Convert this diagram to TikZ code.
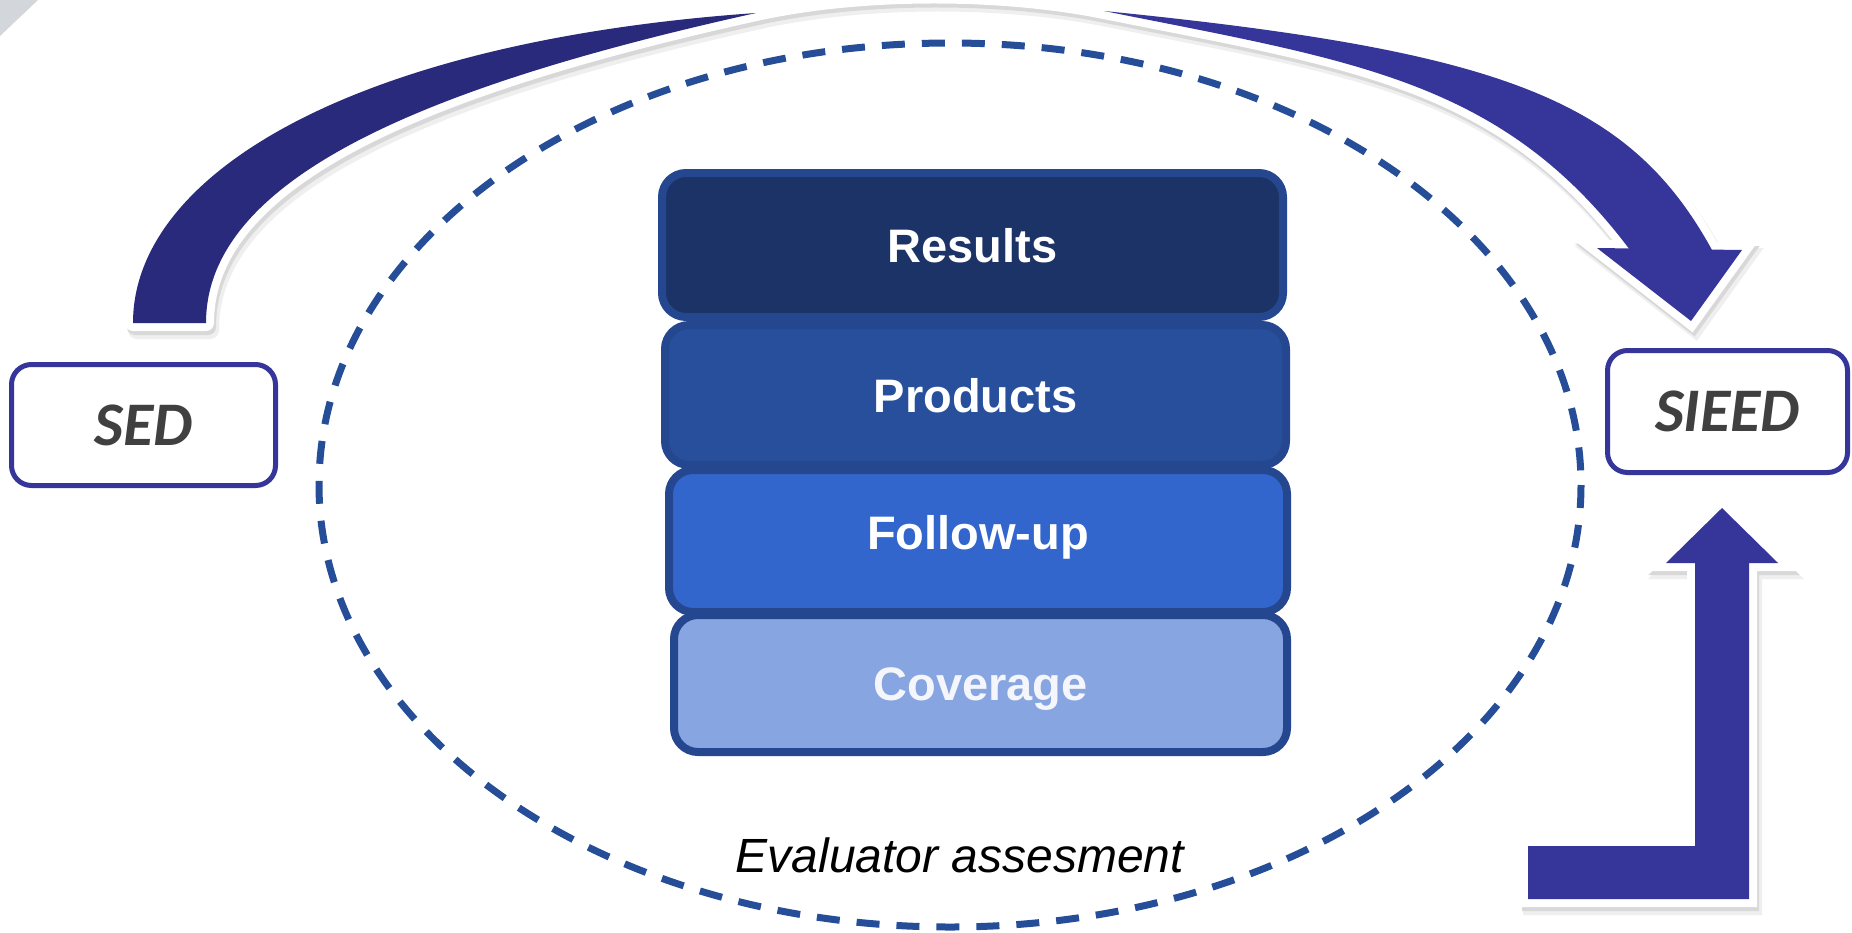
\documentclass[tikz,border=0pt]{standalone}
\usepackage{fontspec}
\setmainfont{Liberation Sans}
\newfontfamily\carlitofont{Carlito}
\definecolor{arcdark}{HTML}{2A2A7C}
\definecolor{arclight}{HTML}{35359A}
\definecolor{dashblue}{HTML}{254D98}
\definecolor{stackedge}{HTML}{25478F}
\definecolor{resfill}{HTML}{1B3366}
\definecolor{prodfill}{HTML}{274F9B}
\definecolor{follfill}{HTML}{3366CC}
\definecolor{covfill}{HTML}{87A5E0}
\definecolor{covtext}{HTML}{F4F6FB}
\definecolor{boxtext}{HTML}{404040}
\definecolor{cornergray}{HTML}{D3D6DA}
\definecolor{shadowlight}{HTML}{EFEFEF}
\definecolor{shadowdark}{HTML}{D8D8D8}
\newcommand\stackfont{\bfseries\fontsize{23.5pt}{26pt}\selectfont}
\newcommand\boxfont{\carlitofont\bfseries\itshape\fontsize{31pt}{34pt}\selectfont}
\begin{document}
\begin{tikzpicture}[x=0.5pt,y=-0.5pt,
  stackbox/.style={draw=stackedge, line width=4pt, rounded corners=12pt, text=white,
    font=\stackfont, inner sep=0pt, text height=17pt, text depth=0pt},
  endbox/.style={draw=arclight, line width=2.5pt, fill=white, rounded corners=10pt,
    font=\boxfont, text=boxtext, inner sep=0pt},
  pieceedge/.style={line width=8pt, line join=round},
  headedge/.style={line width=8pt, line join=miter},
]
\useasboundingbox (0,0) rectangle (1852,932);
\clip (0,0) rectangle (1852,932);
\fill[white] (0,0) rectangle (1852,932);
\fill[cornergray] (0,0) -- (38,0) -- (0,36) -- cycle;

% dashed evaluation ellipse
\draw[dashblue, line width=3.5pt, dash pattern=on 11.5pt off 8.5pt]
  (950,485) ellipse [x radius=631, y radius=442];

% curved arrow: key points
\coordinate (tailout) at (133,323);
\coordinate (tailin) at (206,323);
\coordinate (apexl) at (756,13);
\coordinate (apexr) at (1104,11);
\coordinate (lo1) at (133,173);
\coordinate (lo2) at (356,41);
\coordinate (li1) at (426,86);
\coordinate (li2) at (206,178);
\coordinate (mc1) at (860,-10);
\coordinate (mc2) at (1000,-10);
\coordinate (ro1) at (1504,51);
\coordinate (ro2) at (1629.5,100);
\coordinate (roend) at (1712,250);
\coordinate (roext) at (1716,258);
\coordinate (riext) at (1636,258);
\coordinate (riend) at (1630,250);
\coordinate (ri1) at (1502.5,80);
\coordinate (ri2) at (1354,61);
\coordinate (hl) at (1597,248);
\coordinate (hr) at (1742,250);
\coordinate (htip) at (1691,321);
\def\leftpiece{(tailout) .. controls (lo1) and (lo2) .. (apexl) .. controls (li1) and (li2) .. (tailin) -- cycle}
\def\rightpiece{(apexr) .. controls (ro1) and (ro2) .. (roend) -- (roext) -- (riext) -- (riend) .. controls (ri1) and (ri2) .. (apexr) -- cycle}
\def\midcurve{(apexl) .. controls (mc1) and (mc2) .. (apexr)}
\def\headpath{(hl) -- (hr) -- (htip) -- cycle}

% L arrow
\coordinate (L1) at (1528,846);
\coordinate (L2) at (1695,846);
\coordinate (L3) at (1695,563);
\coordinate (L4) at (1666,563);
\coordinate (ltip) at (1722,508);
\coordinate (L6) at (1778,563);
\coordinate (L7) at (1749,563);
\coordinate (L8) at (1749,899);
\coordinate (L9) at (1528,899);
\def\lshape{(L1) -- (L2) -- (L3) -- (L4) -- (ltip) -- (L6) -- (L7) -- (L8) -- (L9) -- cycle}

% soft shadows
\begin{scope}[transform canvas={shift={(2pt,-3.5pt)}}]
  \filldraw[shadowlight, pieceedge, line width=9pt] \leftpiece;
  \filldraw[shadowlight, pieceedge, line width=9pt] \rightpiece;
  \draw[shadowlight, line width=9pt] \midcurve;
  \filldraw[shadowlight, headedge, line width=9pt] \headpath;
  \filldraw[shadowlight, headedge, line width=9pt] \lshape;
\end{scope}
\begin{scope}[transform canvas={shift={(1pt,-2pt)}}]
  \filldraw[shadowdark, pieceedge] \leftpiece;
  \filldraw[shadowdark, pieceedge] \rightpiece;
  \draw[shadowdark, line width=8pt] \midcurve;
  \filldraw[shadowdark, headedge] \headpath;
  \filldraw[shadowdark, headedge] \lshape;
\end{scope}

% white borders
\filldraw[white, pieceedge] \leftpiece;
\filldraw[white, pieceedge] \rightpiece;
\draw[white, line width=8pt] \midcurve;
\filldraw[white, headedge] \headpath;
\filldraw[white, headedge] \lshape;

% blue arrow bodies
\fill[arcdark] \leftpiece;
\fill[arclight] \rightpiece;
\fill[arclight] \headpath;
\fill[arclight] \lshape;

% end boxes
\node[endbox, minimum width=132pt, minimum height=60.5pt] (sed) at (143.5,425) {SED};
\node[endbox, minimum width=120pt, minimum height=61pt] (sieed) at (1727.5,411.5) {SIEED};

% stack
\node[stackbox, fill=covfill, text=covtext, minimum width=306.5pt, minimum height=68.5pt] (coverage) at (980.5,683.5) {Coverage};
\node[stackbox, fill=follfill, minimum width=309pt, minimum height=71pt, text depth=9pt] (followup) at (978,541) {Follow-up};
\node[stackbox, fill=prodfill, minimum width=310.5pt, minimum height=70pt] (products) at (975.5,395) {Products};
\node[stackbox, fill=resfill, minimum width=310.5pt, minimum height=72pt] (results) at (972.5,245) {Results};

% evaluator label
\node[anchor=base, inner sep=0pt, font=\itshape\fontsize{24pt}{28pt}\selectfont] (evaluator) at (960,872) {Evaluator assesment};
\end{tikzpicture}
\end{document}
